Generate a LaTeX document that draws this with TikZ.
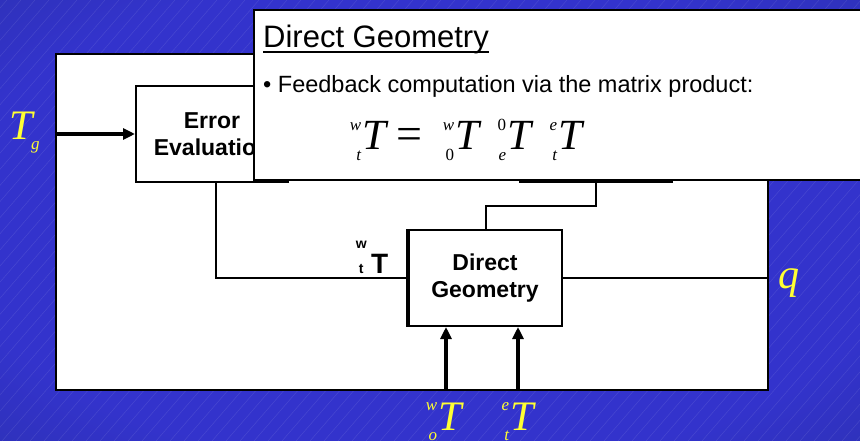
\documentclass[tikz,border=0pt]{standalone}
\usepackage{fontspec}
\setmainfont{Liberation Serif}
\setsansfont{Liberation Sans}
\usetikzlibrary{arrows.meta}
\definecolor{bgmid}{RGB}{51,51,204}
\definecolor{bgdark}{RGB}{28,42,112}
\definecolor{tyel}{RGB}{255,255,51}
\pgfdeclareradialshading{slidebg}{\pgfpointorigin}{color(0bp)=(bgmid); color(28bp)=(bgmid); color(71bp)=(bgdark)}
% T with a left superscript and a left subscript
\newcommand\preT[2]{{\fontsize{17}{17}\selectfont\itshape
  \makebox[0pt][r]{\raisebox{20pt}{#1}\kern1pt}\makebox[0pt][r]{\raisebox{-10pt}{#2}\kern1pt}}\textit{T}}
\begin{document}
\begin{tikzpicture}[x=1pt,y=-1pt,
  block/.style={draw,line width=2pt,fill=white,minimum width=152pt,minimum height=96pt,
    align=center,font={\sffamily\bfseries\fontsize{23}{27}\selectfont}},
  wire/.style={line width=2pt},
  sig/.style={line width=4pt,-{Triangle[length=12pt,width=11pt]}},
  yel/.style={text=tyel,inner sep=0,font={\fontsize{42}{42}\selectfont}},
  eqn/.style={anchor=base west,inner sep=0,font={\fontsize{43}{43}\selectfont}},
  hatch/.style={white,opacity=0.1,line width=0.5pt}]
  \useasboundingbox (0,0) rectangle (860,441);
  % slide background
  \shade[shading=slidebg] (0,0) rectangle (860,441);
  \begin{scope}
    \clip (0,0) rectangle (860,441);
    \foreach \i in {-390,-376,...,860} \draw[hatch] (\i,441) -- ++(383,-441);
  \end{scope}
  % block diagram
  \node[draw,line width=2.5pt,fill=white,minimum width=712pt,minimum height=336pt,inner sep=0] (frame) at (412,222) {};
  \node[block] (ee) at (212,134) {Error\\Evaluation};
  \node[block] (ib) at (596,134) {};
  \node[block,minimum width=154pt] (dg) at (485,278) {Direct\\Geometry};
  \draw[line width=3.5pt] ([xshift=1pt]dg.north west) -- ([xshift=1pt]dg.south west);
  \coordinate (ino) at (446,390);
  \coordinate (inet) at (518,390);
  \draw[sig] (frame.west |- ee.west) -- (ee.west);
  \draw[wire] ([xshift=4pt]ee.south) |- (dg.west);
  \draw[wire] (ib.south) -- ++(0,23) -| ([xshift=1pt]dg.north);
  \draw[wire] (dg.east) -- (dg.east -| frame.east);
  \draw[sig] (ino) -- (ino |- dg.south);
  \draw[sig] (inet) -- (inet |- dg.south);
  % signal labels
  \node[anchor=base west,inner sep=0,font=\sffamily\bfseries] (twt) at (354,273)
    {{\fontsize{14}{14}\selectfont\rlap{\makebox[14pt]{\raisebox{25pt}{w}}}\makebox[14pt]{t}}\kern3pt{\fontsize{28}{28}\selectfont T}};
  \node[yel,anchor=base west] (tg) at (9,140) {\textit{T}\kern-4pt\raisebox{-10pt}{\fontsize{17}{17}\selectfont\textit{g}}};
  \node[yel,anchor=base west] (q) at (778,288) {\textit{q}};
  \node[yel,anchor=base west] (two) at (438,430) {\preT{w}{o}};
  \node[yel,anchor=base west] (tet) at (510,430) {\preT{e}{t}};
  % popup
  \draw[line width=2pt,fill=white] (254,10) rectangle (875,180);
  \node[anchor=base west,inner sep=0,font={\sffamily\fontsize{31}{31}\selectfont}] (title) at (263,48) {Direct Geometry};
  \draw[line width=1.8pt] ([yshift=-4pt]title.base west) -- ([yshift=-4pt]title.base east);
  \node[anchor=base west,inner sep=0,font={\sffamily\fontsize{23.5}{24}\selectfont}] (bul) at (263,93)
    {\textbullet\ Feedback computation via the matrix product:};
  \node[eqn] (lhs) at (362,150) {\preT{w}{t}};
  \node[eqn,anchor=base,font={\fontsize{46}{46}\selectfont}] (eqs) at (409,150) {=};
  \node[eqn] (fa) at (455,150) {\preT{w}{\upshape 0}};
  \node[eqn] (fb) at (507,150) {\preT{\upshape 0}{e}};
  \node[eqn] (fc) at (558,150) {\preT{e}{t}};
\end{tikzpicture}
\end{document}
